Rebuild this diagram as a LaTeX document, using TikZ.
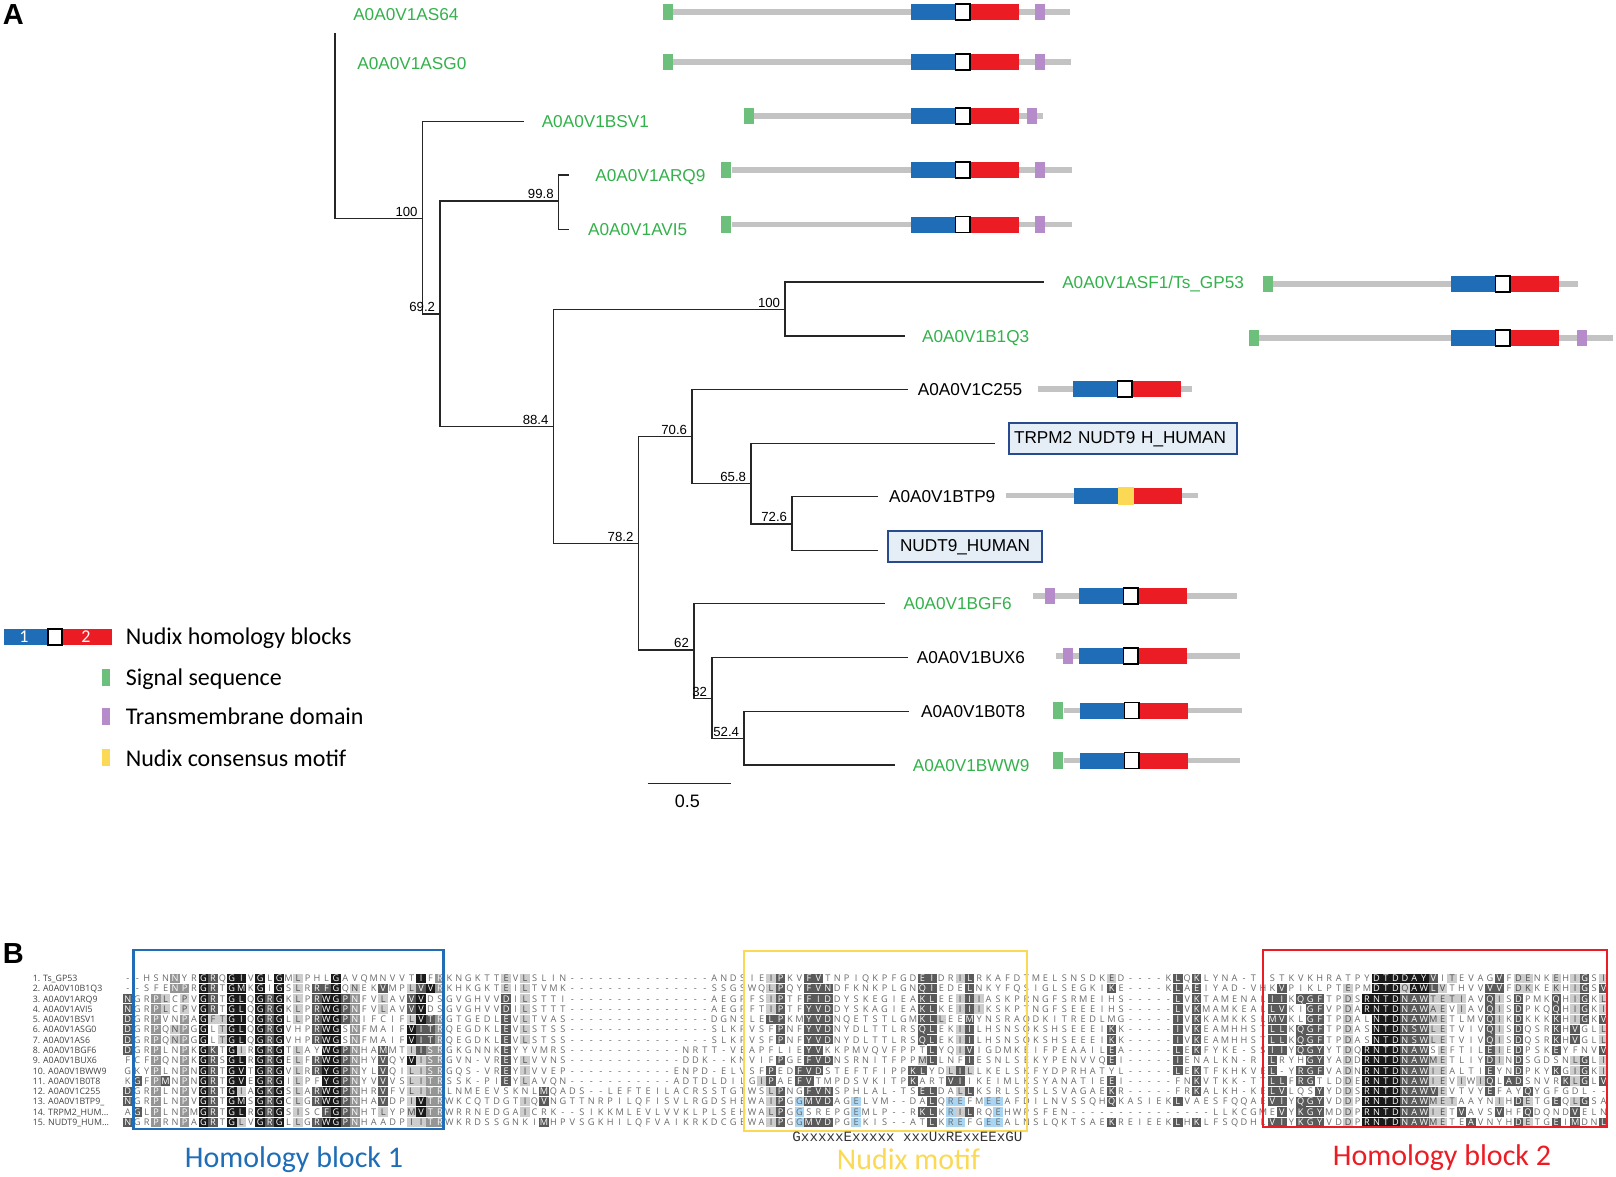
\documentclass[tikz,border=0pt]{standalone}
\usepackage{fontspec}
\usepackage{tikz}
\setmainfont{Liberation Sans}
\newfontfamily\calfont{Carlito}
\newfontfamily\seqfont{Open Sans}
\newfontfamily\monofont{Liberation Mono}

\definecolor{blkblue}{HTML}{1E6DB6}
\definecolor{blkred}{HTML}{EC1C24}
\definecolor{siggreen}{HTML}{6CC07C}
\definecolor{tmpurple}{HTML}{B68BC9}
\definecolor{motifyellow}{HTML}{FBD955}
\definecolor{bargray}{HTML}{C3C3C3}
\definecolor{leafgreen}{HTML}{33B14B}
\definecolor{boxfill}{HTML}{E5EDF7}
\definecolor{boxline}{HTML}{284A8E}
\definecolor{shblk}{HTML}{1A1A1A}
\definecolor{shdrk}{HTML}{5A5A5A}
\definecolor{shmid}{HTML}{959595}
\definecolor{shlgt}{HTML}{CDCDCD}
\definecolor{shblu}{HTML}{A9D5F2}
\definecolor{seqgray}{HTML}{6A6A6A}
\definecolor{seqdark}{HTML}{4A4A4A}

% one alignment cell per letter; a mark before a letter shades it
% * black, = dark gray, + gray, : light gray, @ light blue
\newlength\cellw
\setlength\cellw{4.73pt}
\def\cbg{white}
\def\cfg{seqgray}
\def\aln#1{\alnloop#1\relax}
\def\alnloop#1{%
  \ifx#1\relax
    \let\alnnext\relax
  \else
    \let\alnnext\alnloop
    \if*#1\def\cbg{shblk}\def\cfg{white}%
    \else\if=#1\def\cbg{shdrk}\def\cfg{white}%
    \else\if+#1\def\cbg{shmid}\def\cfg{white}%
    \else\if:#1\def\cbg{shlgt}\def\cfg{seqdark}%
    \else\if@#1\def\cbg{shblu}\def\cfg{seqgray}%
    \else\alncell{#1}\def\cbg{white}\def\cfg{seqgray}%
    \fi\fi\fi\fi\fi
  \fi
  \alnnext}
\def\alncell#1{{\fboxsep=0pt\colorbox{\cbg}{\makebox[\cellw]{\rule[-0.65pt]{0pt}{4.6pt}\textcolor{\cfg}{#1}}}}}

\begin{document}
\begin{tikzpicture}[x=0.5pt,y=-0.5pt,line width=0.75pt]
	\tikzstyle{leaf}=[anchor=west,inner sep=0pt,text height=6.2pt,text depth=0pt,font=\fontsize{8.6}{10}\selectfont]
	\tikzstyle{gleaf}=[leaf,text=leafgreen]
	\tikzstyle{hbox}=[draw=boxline,line width=1pt,fill=boxfill,minimum height=15.5pt,inner xsep=2.5pt,font=\fontsize{8.6}{10}\selectfont]
	\tikzstyle{boot}=[anchor=south east,inner sep=0.6pt,xshift=-1.5pt,font=\fontsize{6.6}{7}\selectfont]
	\tikzstyle{branch}=[line width=0.75pt,black!85]
	\tikzstyle{legtext}=[anchor=west,inner sep=0pt,text height=7.7pt,text depth=0pt,font=\calfont\fontsize{12}{14}\selectfont]
	\tikzstyle{rowlab}=[anchor=west,inner sep=0pt,text height=3.1pt,text depth=0pt,text=black!75,font=\seqfont\fontsize{4.4}{5}\selectfont]
	\tikzstyle{seqrow}=[anchor=west,inner sep=0pt,font=\seqfont\fontsize{4.6}{5}\selectfont]
	\tikzstyle{blocklab}=[anchor=base,inner sep=0pt,text depth=0pt,font=\calfont\fontsize{15}{17}\selectfont]

	\useasboundingbox (0,0) rectangle (1616,1177);

	\node[anchor=north west,inner sep=0pt,font=\bfseries\fontsize{14.5}{16}\selectfont] (pan_a) at (2,4) {A};
	\node[anchor=north west,inner sep=0pt,font=\bfseries\fontsize{14.5}{16}\selectfont] (pan_b) at (2,943) {B};

	% tree nodes
	\coordinate (rt) at (335,33);
	\coordinate (n1) at (422.5,218.3);
	\coordinate (n2) at (440,314);
	\coordinate (n3) at (558.6,201);
	\coordinate (n4) at (553.4,426.7);
	\coordinate (n5) at (785,309.3);
	\coordinate (n6) at (638.3,543.3);
	\coordinate (n7) at (692,436.7);
	\coordinate (n8) at (693.8,650);
	\coordinate (n9) at (751,483.3);
	\coordinate (n10) at (792,524);
	\coordinate (n11) at (712,698.3);
	\coordinate (n12) at (744,738.3);

	% leaf ends
	\coordinate (e_bsv1) at (523.5,121.7);
	\coordinate (e_arq9) at (569,175);
	\coordinate (e_avi5) at (569,229.3);
	\coordinate (e_ts) at (1043.5,282);
	\coordinate (e_b1q3) at (905,336);
	\coordinate (e_c255) at (907.6,389.3);
	\coordinate (e_trpm2) at (994.5,443.3);
	\coordinate (e_btp9) at (877.6,496.7);
	\coordinate (e_nudt9) at (877.6,550.7);
	\coordinate (e_bgf6) at (885,603.3);
	\coordinate (e_bux6) at (907.5,657.7);
	\coordinate (e_b0t8) at (909,711.7);
	\coordinate (e_bww9) at (894.7,765);

	\draw[branch] (rt) |- (n1);
	\draw[branch] (n1) |- (e_bsv1);
	\draw[branch] (n1) |- (n2);
	\draw[branch] (n2) |- (n3);
	\draw[branch] (n2) |- (n4);
	\draw[branch] (n3) |- (e_arq9);
	\draw[branch] (n3) |- (e_avi5);
	\draw[branch] (n4) |- (n5);
	\draw[branch] (n4) |- (n6);
	\draw[branch] (n5) |- (e_ts);
	\draw[branch] (n5) |- (e_b1q3);
	\draw[branch] (n6) |- (n7);
	\draw[branch] (n6) |- (n8);
	\draw[branch] (n7) |- (e_c255);
	\draw[branch] (n7) |- (n9);
	\draw[branch] (n9) |- (e_trpm2);
	\draw[branch] (n9) |- (n10);
	\draw[branch] (n10) |- (e_btp9);
	\draw[branch] (n10) |- (e_nudt9);
	\draw[branch] (n8) |- (e_bgf6);
	\draw[branch] (n8) |- (n11);
	\draw[branch] (n11) |- (e_bux6);
	\draw[branch] (n11) |- (n12);
	\draw[branch] (n12) |- (e_b0t8);
	\draw[branch] (n12) |- (e_bww9);

	% bootstrap values
	\node[boot] at (n1) {100};
	\node[boot] at (n2) {69.2};
	\node[boot] at (n3) {99.8};
	\node[boot] at (n4) {88.4};
	\node[boot] at (n5) {100};
	\node[boot] at (n6) {78.2};
	\node[boot] at (n7) {70.6};
	\node[boot] at (n9) {65.8};
	\node[boot] at (n10) {72.6};
	\node[boot] at (n8) {62};
	\node[boot] at (n11) {32};
	\node[boot] at (n12) {52.4};

	% leaves
	\node[gleaf] (l_as64) at (352.5,14) {A0A0V1AS64};
	\node[gleaf] (l_asg0) at (356.6,63) {A0A0V1ASG0};
	\node[gleaf] (l_bsv1) at (541,121.7) {A0A0V1BSV1};
	\node[gleaf] (l_arq9) at (594.7,175) {A0A0V1ARQ9};
	\node[gleaf] (l_avi5) at (587.4,229.3) {A0A0V1AVI5};
	\node[gleaf] (l_ts) at (1061.5,282) {A0A0V1ASF1/Ts\_GP53};
	\node[gleaf] (l_b1q3) at (921.4,336) {A0A0V1B1Q3};
	\node[leaf] (l_c255) at (917.2,389.3) {A0A0V1C255};
	\node[hbox,anchor=west,text width=109pt,align=left] (l_trpm2) at (1008,438.8) {TRPM2 NUDT9 H\_HUMAN};
	\node[leaf] (l_btp9) at (888.4,496.7) {A0A0V1BTP9};
	\node[hbox,anchor=west,minimum width=77pt] (l_nudt9) at (887,546.9) {NUDT9\_HUMAN};
	\node[gleaf] (l_bgf6) at (902.8,603.3) {A0A0V1BGF6};
	\node[leaf] (l_bux6) at (916.2,657.7) {A0A0V1BUX6};
	\node[leaf] (l_b0t8) at (920.3,711.7) {A0A0V1B0T8};
	\node[gleaf] (l_bww9) at (912.1,765) {A0A0V1BWW9};

	% scale bar
	\coordinate (sb_l) at (647.5,783.3);
	\coordinate (sb_r) at (730.5,783.3);
	\draw[branch] (sb_l) -- (sb_r);
	\node[font=\fontsize{9}{10}\selectfont,inner sep=0pt] (sb_t) at (687.4,801.7) {0.5};

	% domain architectures
	\foreach \y/\gs/\ge/\bx/\mc/\md in {12/672/1069.8/911/white/black, 62/672/1070.8/911/white/black,
		116/754.4/1043/911/white/black, 170/731.7/1071.8/911/white/black, 224.5/731.7/1071.8/911/white/black,
		284/1271.8/1577.8/1451.1/white/black, 338/1259.4/1612.9/1451.1/white/black,
		389/1037.8/1192.4/1073/white/black, 495.8/1005.9/1197.5/1074/motifyellow/motifyellow,
		596/1032.6/1236.7/1079/white/black, 656/1056.4/1239.8/1079/white/black,
		710.7/1063.6/1241.9/1080/white/black, 760.5/1063.6/1239.8/1080/white/black}{
		\fill[bargray] (\gs,\y-2.6) rectangle (\ge,\y+2.6);
		\fill[blkblue] (\bx,\y-8) rectangle ++(44.4,16);
		\fill[blkred] (\bx+58.8,\y-8) rectangle ++(49.5,16);
		\draw[fill=\mc,draw=\md,line width=0.7pt] (\bx+44.4,\y-8) rectangle ++(14.4,16);
	}
	\foreach \x/\y in {662.7/12, 662.7/62, 744/116, 721.4/170, 721.4/224.5, 1262.5/284, 1249.1/338, 1053.3/710.7, 1053.3/760.5}
		\fill[siggreen] (\x,\y-8.3) rectangle ++(10,16.6);
	\foreach \x/\y in {1034.7/12, 1034.7/62, 1026.5/116, 1034.7/170, 1034.7/224.5, 1576.8/338, 1045/596, 1062.6/656}
		\fill[tmpurple] (\x,\y-8.3) rectangle ++(10,16.6);

	% legend
	\fill[blkblue] (4,629) rectangle (48,645);
	\fill[blkred] (62,629) rectangle (111.5,645);
	\draw[fill=white,line width=0.7pt] (48,629) rectangle (62,645);
	\node[text=white,inner sep=0pt,font=\calfont\fontsize{9}{10}\selectfont] (k_1) at (24,637) {1};
	\node[text=white,inner sep=0pt,font=\calfont\fontsize{9}{10}\selectfont] (k_2) at (86,637) {2};
	\fill[siggreen] (102,669.3) rectangle (110,686);
	\fill[tmpurple] (102,708) rectangle (110,725);
	\fill[motifyellow] (102,749) rectangle (110,766);
	\node[legtext] (t_nudix) at (125,636.7) {Nudix homology blocks};
	\node[legtext] (t_sig) at (125,677.3) {Signal sequence};
	\node[legtext] (t_tm) at (125,716.7) {Transmembrane domain};
	\node[legtext] (t_mot) at (125,758.3) {Nudix consensus motif};

	% alignment
	\node[rowlab] (r_1) at (32,978.3) {1. Ts\_GP53};
	\node[rowlab] (r_2) at (32,988.6) {2. A0A0V10B1Q3};
	\node[rowlab] (r_3) at (32,998.9) {3. A0A0V1ARQ9};
	\node[rowlab] (r_4) at (32,1009.2) {4. A0A0V1AVI5};
	\node[rowlab] (r_5) at (32,1019.5) {5. A0A0V1BSV1};
	\node[rowlab] (r_6) at (32,1029.8) {6. A0A0V1ASG0};
	\node[rowlab] (r_7) at (32,1040.0) {7. A0A0V1AS6};
	\node[rowlab] (r_8) at (32,1050.3) {8. A0A0V1BGF6};
	\node[rowlab] (r_9) at (32,1060.6) {9. A0A0V1BUX6};
	\node[rowlab] (r_10) at (32,1070.9) {10. A0A0V1BWW9};
	\node[rowlab] (r_11) at (32,1081.2) {11. A0A0V1B0T8};
	\node[rowlab] (r_12) at (32,1091.5) {12. A0A0V1C255};
	\node[rowlab] (r_13) at (32,1101.8) {13. A0A0V1BTP9\_};
	\node[rowlab] (r_14) at (32,1112.1) {14. TRPM2\_HUM\ldots};
	\node[rowlab] (r_15) at (32,1122.4) {15. NUDT9\_HUM\ldots};

	\node[seqrow] (s_1) at (122.3,978.3) {\aln{--HSN+NYR*G=RQ*G*IV*GL*GM:LPHL*GAVQMNVVT*IF+RKNGKTT:EV:LSLIN---------------ANDSIE:I=PKV=F=VTNPIQKPFGD=E=IDR:I=LRKAFDTMELSNSDK:ED----K=LQ=KLYNA-TISTKVKHRATPY*D*T*D*D*A*Y=VI:TEVAG=VF:D:ENK:EH:I=GS:I}};
	\node[seqrow] (s_2) at (122.3,988.6) {\aln{--SFE+N+PR*G=RT*G*MK*GI*GS:LR=R=F*GQ:NEK=VMP:L=V*V+RKHKGKT:EI:LTVMK---------------SSGSWQ:L=PQY=F=V=NDFKNKPLGN=Q=IEDE=LNKYFQSIGLSEGKI=KE----K=LA=EIYAD-VHK=VPIKLPT:EPM*D*T*D:Q*A*W=L:VTHVV=V=VF:D:KKE:KH:I=GS=V}};
	\node[seqrow] (s_3) at (122.3,998.9) {\aln{=NGR+P:LC:PV*G=RT*G*LQ*G=R*GK:LP=R*W*G=P+NFV:LAV=V*VDSGVGHVV=DI:LSTTI---------------AEGPFS:I=PTF=F=I=DDYSKEGIEA=K=LEE:I=I:IASKPRNGFSRMEIHS-----=LV=KTAMENAL=I=IK=Q=G=FTP:DS*R*N*T*D=N=A=W:T:E:T:IAV=Q:IS=DPMK=QH:I=GK:L}};
	\node[seqrow] (s_4) at (122.3,1009.2) {\aln{=NGR+P:LC:PV*G=RT*G*LQ*G=R*GK:LP=R*W*G=P+NFV:LAV=V*VDSGVGHVV=DI:LSTTT---------------AEGPFT:I=PTF=Y=V=DDYSKAGIEA=K=LKE:I=I:IKSKPTNGFSEEEIHS-----=LV=KMAMKEAL=L=VKI=G=FVP:DA*R*N*T*D=N=A=W:A:EV:IAV=Q:IS=DPKQ=QH:I=GK:I}};
	\node[seqrow] (s_5) at (122.3,1019.5) {\aln{=DGR+PVN+PA*G:F:T*G*IQ*G=R*GL:LP=R*W*G=P+NIFCIF:L*V=T+RGTGEDL=EV:LTVAS---------------DGNSLE=L=PKM=Y=V=DNQETSTLGM=K=L:LEE=MYNSRAQDKITREDLMG-----=IV=KKAMKKSL=M=VKL=G=FTP:DAL*N*T*D=N=A=W:M:ETLMV=Q:IK=DKKK=KH:I=GK=V}};
	\node[seqrow] (s_6) at (122.3,1029.8) {\aln{=DGR+PQ:N+PG*GL:T*G*LQ*G=R*GVHP=R*W*GS+NFMAIF*V=I=T+RQEGDKL=EV:LSTSS---------------SLKPVSF=PNF=Y=V=DNYDLTTLRS=Q=LEK:I=ILHSNSQKSHSEEEI=KK-----=IV=KEAMHHST=L=LK=Q=G=FTP:DAS*N*T*D=N=S=W:L:ETVIV=Q:IS=DQSR=KH=VGL:L}};
	\node[seqrow] (s_7) at (122.3,1040.0) {\aln{=DGR+PQ:N+PG*GL:T*G*LQ*G=R*GVHP=R*W*GS+NFMAIF*V=I=T+RQEGDKL=EV:LSTSS---------------SLKPVSF=PNF=Y=V=DNYDLTTLRS=Q=LEK:I=ILHSNSQKSHSEEEI=KK-----=IV=KEAMHHST=L=LK=Q=G=FTP:DAS*N*T*D=N=S=W:L:ETVIV=Q:IS=DQSR=KH=VGL:L}};
	\node[seqrow] (s_8) at (122.3,1050.3) {\aln{=DGR+PLN+PK*G=KT*G:IR*G=R*GT:LAY*W*G=P+NHA=MMT:I=I+S+RGKGNNK=EYYVMRS------------NRTT-VEAPFLIE=Y=VKKPMVQVFPPT=LYQ:I=VIGDMKEIFPEAAIL=EA-----=LE=KFYKE-SS=I=IY=Q=G=YYT:DQ*R*N*T*D=N=A=WS:EFTIL=E:IE=DPSK=EYFNV=V}};
	\node[seqrow] (s_9) at (122.3,1060.6) {\aln{FCF+PQN+PK*G=RS*G*LR*G=R*GE:LF=R*W*G=P+NHY=VQY*V:I+S+RGVN-VR=EY:LVVNS------------DDK--KNVIF=PGE=F=V=DNSRNITFPP:M=LLNF=IESNLSEKYPENVVQ=EI-----=IENALKN-RI=LRYH=G=YYA:DD*R*N*T*D=N=A=W:M:ETLIY=D:IN=DSGDSN:L=GL:I}};
	\node[seqrow] (s_10) at (122.3,1070.9) {\aln{GKY+PLN+PN*G=RT*G*VT*G=R*GV:LR=R*Y*G=P+NYL=VQI:L:I+S+RGQS-VR=EY:IVVEP-----------ENPD-ELVSF=PED=F=V=DSTEFTFIPP=K=LYD:L=I:LLKELSKFYDPRHATYL-----=LE=KTFKHKVE=L-Y=R=G=FVA:DN*R*N*T*D=N=A=W:I:EALTI=EYN=DPKY=KG:I=GK:I}};
	\node[seqrow] (s_11) at (122.3,1081.2) {\aln{K=GF+P=MN+PN*G=RT*G*VE*G=R*GI:LPF*Y*G=P+NYV=VVS:L:I+T+RSSK-PI=EY:LAVQN-----------ADTDLDILG:I=PAE=F=VTMPDSVKITP=KART=V=IIKEIMLKSYANATIE=EI-----FN=KVTKK-TT=L=LF=R=GTLD:DE*R*N*T*D=N=A=W:I:EV:IW:I=QL=A=DSNVR=K:L=GL=V}};
	\node[seqrow] (s_12) at (122.3,1091.5) {\aln{=DGR+PLN+PV*G=RT*G:IA*G=K*GS:LA=R*W*G=P+NHR=VFV:L:I+T+RLNMEEVSKNL=MQADS--LEFTEILACRSSTGTWS:L=PNG=F=V=NSPHLAL-TS=E=LDA:L=LKSRLSKSLSVAGAE=KR-----FR=KALKH-KE=L=VLQS=YYD:DS*R*N*T*D=N=A=W=V:EVTVY=EFAY=QYGFGDL--}};
	\node[seqrow] (s_13) at (122.3,1101.8) {\aln{=NGR+PLN+PV*G=RT*G*MS*G=R*GC:LG=R*W*G=P+NHA=VDP:I*V+T+RWKCQTDGT:IQ=VNGTTNRPILQFISVLRGDSHEWA:I=PG@G=M=V=DAG@ELVM--DA=LQ@R@EFM@E@EAFDILNVSSQH=QKASIEK=LVAESFQQAE=V=IY=Q=G=YVD:DP*R*N*T*D=N=A=W:M:E:TAAYN:IH=D:ETG=EQ:L=GSA}};
	\node[seqrow] (s_14) at (122.3,1112.1) {\aln{A=GL+PLN+PM*G=RT*G*LR*G=R*GS:ISC=F*G=P+NHT:LYP:M*V+T+RWRRNEDGA:ICRK--SIKKMLEVLVVKLPLSEHWA:L=PG@GSREPG@EMLP--R=K=LK@R:I=LRQ@EHWPSFEN---------------LLKCGME=VY=K=G=YMD:DP*R*N*T*D=N=A=W:I:ET=VAVS=VHF=QDQND=VELN}};
	\node[seqrow] (s_15) at (122.3,1122.4) {\aln{=NGR+PRN+PA*G=RT*G:LV*G=R*GL:LG=R*W*G=P+NHAADP:I:I+T+RWKRDSSGNKI=MHPVSGKHILQFVAIKRKDCGEWA:I=PG@G=M=V=DPG@EKIS--AT=LK@R@EFG@E@EALNSLQKTSAE=KREIEEK=LH=KLFSQDHL=V=IY=K=G=YVD:DP*R*N*T*D=N=A=W:M:ETE=AVNYH=D:ETG=EI=MDN=L}};

	\draw[blkblue,line width=1.2pt] (133.3,950) rectangle (443.3,1129);
	\draw[motifyellow,line width=1.2pt] (744,950.7) rectangle (1026.7,1131);
	\draw[blkred,line width=1.2pt] (1262.7,950) rectangle (1606.7,1127);

	\node[anchor=base west,inner sep=0pt,text=black!80,font=\monofont\fontsize{7.1}{8}\selectfont] (motif) at (791.7,1141.7) {GxxxxxExxxxx xxxUxRExxEExGU};
	\node[blocklab,text=blkblue] (hb_1) at (294,1167) {Homology block 1};
	\node[blocklab,text=motifyellow] (nm) at (908.5,1169) {Nudix motif};
	\node[blocklab,text=blkred] (hb_2) at (1442,1165) {Homology block 2};
\end{tikzpicture}
\end{document}
